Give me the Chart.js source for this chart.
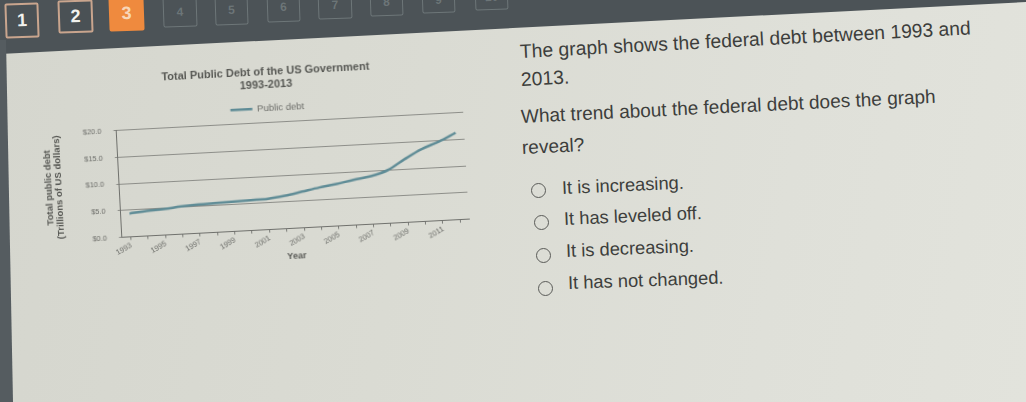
<!DOCTYPE html>
<html>
<head>
<meta charset="utf-8">
<script src="https://cdn.jsdelivr.net/npm/chart.js@4/dist/chart.umd.min.js"></script>
<style>
  html, body { margin: 0; padding: 0; }
  body {
    width: 1026px; height: 402px; position: relative; overflow: hidden;
    background: linear-gradient(100deg, #d5d6ce 0%, #dadbd3 40%, #dfe0d9 75%, #e2e3dc 100%);
    font-family: "Liberation Sans", Arial, sans-serif;
  }
  #bar {
    position: absolute; left: 0; top: 0; width: 1026px; height: 56px;
    background: #4c5357;
    clip-path: polygon(0 0, 100% 0, 100% 2px, 0 54px);
  }
  #edge {
    position: absolute; left: 0; top: 40px; width: 14px; height: 362px;
    background: #555c60;
    clip-path: polygon(0 0, 6px 0, 13px 100%, 0 100%);
  }
  .tab {
    position: absolute; box-sizing: border-box; border-radius: 2px;
    display: flex; align-items: center; justify-content: center;
    font-weight: bold; font-size: 18px; transform: rotate(-2deg);
  }
  .tab.done { background: #4a5155; border: 2px solid #c9a58e; color: #f2f2ee; }
  .tab.cur { background: #ef8a3e; color: #f8d6b8; }
  .tab.todo { border: 1px solid rgba(150,162,162,0.45); color: rgba(150,162,162,0.45); font-size: 12px; }
  #chartBox {
    position: absolute; left: 24px; top: 50px; width: 480px; height: 216px;
    transform: rotate(-3deg); transform-origin: 264px 120px;
  }
  .line {
    position: absolute; white-space: nowrap; font-size: 18.3px; line-height: 22px;
    color: #3d3e3c; transform-origin: left center;
  }
  .radio {
    position: absolute; width: 15px; height: 15px; box-sizing: border-box;
    border: 1.6px solid #5a5b58; border-radius: 50%;
  }
</style>
</head>
<body>
<div id="bar"></div>
<div id="edge"></div>

<div class="tab done" style="left:5px;top:3px;width:34px;height:35px;">1</div>
<div class="tab done" style="left:58px;top:0px;width:35px;height:33px;">2</div>
<div class="tab cur" style="left:109px;top:-4px;width:35px;height:35px;">3</div>
<div class="tab todo" style="left:163px;top:-4px;width:34px;height:31px;">4</div>
<div class="tab todo" style="left:215px;top:-6px;width:33px;height:31px;">5</div>
<div class="tab todo" style="left:267px;top:-8px;width:33px;height:30px;">6</div>
<div class="tab todo" style="left:318px;top:-10px;width:34px;height:29px;">7</div>
<div class="tab todo" style="left:370px;top:-12px;width:33px;height:28px;">8</div>
<div class="tab todo" style="left:422px;top:-14px;width:33px;height:27px;">9</div>
<div class="tab todo" style="left:475px;top:-16px;width:33px;height:26px;">10</div>

<div id="chartBox"><canvas id="debtChart"></canvas></div>

<div class="line" style="left:520px;top:41px;font-size:19.3px;transform:rotate(-3deg);">The graph shows the federal debt between 1993 and</div>
<div class="line" style="left:521px;top:69px;font-size:19.3px;transform:rotate(-3deg);">2013.</div>
<div class="line" style="left:521px;top:106px;font-size:19px;transform:rotate(-2.8deg);">What trend about the federal debt does the graph</div>
<div class="line" style="left:522px;top:137px;font-size:19px;transform:rotate(-2.8deg);">reveal?</div>

<div class="radio" style="left:531px;top:183px;"></div>
<div class="line" style="left:562px;top:177px;transform:rotate(-2.5deg);">It is increasing.</div>
<div class="radio" style="left:534px;top:215px;"></div>
<div class="line" style="left:564px;top:208px;transform:rotate(-2.5deg);">It has leveled off.</div>
<div class="radio" style="left:536px;top:248px;"></div>
<div class="line" style="left:566px;top:240px;transform:rotate(-2.3deg);">It is decreasing.</div>
<div class="radio" style="left:538px;top:281px;"></div>
<div class="line" style="left:568px;top:272px;transform:rotate(-2deg);">It has not changed.</div>

<script>
// years on the category axis (every other one gets a label, like the original)
const years = ['1993', '1994', '1995', '1996', '1997', '1998', '1999', '2000', '2001', '2002',
               '2003', '2004', '2005', '2006', '2007', '2008', '2009', '2010', '2011', '2012'];
const shownYears = ['1993', '1995', '1997', '1999', '2001', '2003', '2005', '2007', '2009', '2011'];

// total public debt, trillions of US dollars
const publicDebt = [4.4, 4.7, 4.9, 5.2, 5.4, 5.5, 5.6, 5.7, 5.8, 6.2,
                    6.8, 7.4, 7.9, 8.5, 9.0, 10.0, 11.9, 13.6, 14.8, 16.3];

const yTicks = [0, 5, 10, 15, 20];

const textGray = '#575854';
const fontFam = '"Liberation Sans", Arial, sans-serif';

const ctx = document.getElementById('debtChart').getContext('2d');
new Chart(ctx, {
    type: 'line',
    data: {
        labels: years,
        datasets: [{
            label: 'Public debt',
            data: publicDebt,
            borderColor: '#5f8c96',
            backgroundColor: '#5f8c96',
            borderWidth: 2.5,
            pointRadius: 0,
            cubicInterpolationMode: 'monotone'
        }]
    },
    options: {
        responsive: true,
        maintainAspectRatio: false,
        animation: false,
        // big left padding keeps title + legend centred like the original;
        // the y axis title is pulled back into that gap with a negative padding
        layout: { padding: { left: 51, right: 38, top: 8, bottom: 4 } },
        plugins: {
            title: {
                display: true,
                text: ['Total Public Debt of the US Government', '1993-2013'],
                color: textGray,
                font: { family: fontFam, size: 11, weight: 'bold', lineHeight: 1.2 },
                padding: { top: 6, bottom: 4 }
            },
            legend: {
                labels: {
                    usePointStyle: true,
                    pointStyle: 'line',
                    pointStyleWidth: 22,
                    color: '#6c6d69',
                    font: { family: fontFam, size: 9.5 },
                    padding: 8
                }
            },
            tooltip: { enabled: false }
        },
        scales: {
            x: {
                offset: true,
                grid: { display: true, drawOnChartArea: false, drawTicks: true, tickLength: 3, color: '#7a7b77' },
                border: { color: '#6f706c' },
                ticks: {
                    autoSkip: false,
                    minRotation: 27,
                    maxRotation: 27,
                    color: '#6c6d69',
                    font: { family: fontFam, size: 7.5 },
                    padding: 1,
                    callback: function (value) {
                        const y = years[value];
                        return shownYears.includes(y) ? y : '';
                    }
                },
                title: {
                    display: true,
                    text: 'Year',
                    color: textGray,
                    font: { family: fontFam, size: 9, weight: 'bold' },
                    padding: { top: 2, bottom: 0 }
                }
            },
            y: {
                min: 0,
                max: 20,
                afterBuildTicks: function (axis) {
                    axis.ticks = yTicks.map(v => ({ value: v }));
                },
                grid: { color: '#8d8e89', lineWidth: 1, drawTicks: true, tickLength: 3 },
                border: { color: '#6f706c' },
                ticks: {
                    color: '#6c6d69',
                    font: { family: fontFam, size: 7.5 },
                    padding: 12,
                    callback: function (value) { return '$' + value.toFixed(1); }
                },
                title: {
                    display: true,
                    text: ['Total public debt', '(Trillions of US dollars)'],
                    color: textGray,
                    font: { family: fontFam, size: 9.5, weight: 'bold', lineHeight: 1.0 },
                    padding: { top: -31, bottom: 10 }
                }
            }
        }
    }
});
</script>
</body>
</html>
